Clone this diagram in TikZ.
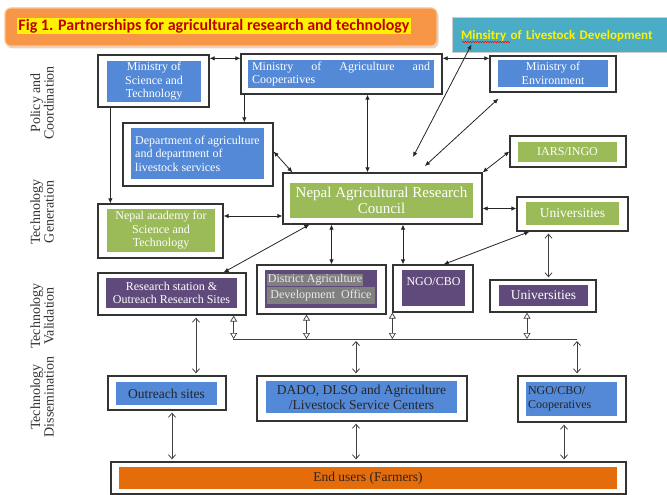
\documentclass[tikz,border=0pt]{standalone}
\usepackage{fontspec}
\setmainfont{Liberation Serif}
\newfontfamily\calibrifont{Carlito}
\usepackage{xcolor}
\usepackage{tikz}
\usetikzlibrary{arrows.meta, shadows, decorations.pathmorphing}

\definecolor{titleorange}{RGB}{247,150,70}
\definecolor{titlered}{RGB}{192,0,0}
\definecolor{lsteal}{RGB}{75,172,198}
\definecolor{polblue}{RGB}{83,137,214}
\definecolor{gengreen}{RGB}{155,187,89}
\definecolor{valpurple}{RGB}{96,74,123}
\definecolor{enduorange}{RGB}{228,108,10}
\definecolor{hlgray}{RGB}{128,128,128}

\begin{document}
\begin{tikzpicture}[
    x=1pt, y=-1pt,
    >={Latex[length=5pt, width=4.5pt]},
    link_arrow/.style={draw=black!85, line width=0.8pt, <->},
    single_arrow/.style={draw=black!85, line width=0.8pt, ->},
    barb_arrow/.style={draw=black!75, line width=0.8pt, shorten <=2pt, shorten >=2pt, {Straight Barb[length=4pt, width=7pt]}-{Straight Barb[length=4pt, width=7pt]}},
    hollow_arrow/.style={draw=black!75, line width=0.7pt, {Triangle[open, length=6pt, width=7pt]}-{Triangle[open, length=6pt, width=7pt]}},
    bus_line/.style={draw=black!75, line width=0.8pt},
    % Box frames and fills
    frame_node/.style={rectangle, draw=black!80, line width=1.3pt, fill=white, inner sep=0pt},
    fill_node/.style={rectangle, inner sep=1pt, align=center, font=\fontsize{12}{13.5}\selectfont},
    pol_node/.style={fill_node, fill=polblue, text=white},
    gen_node/.style={fill_node, fill=gengreen, text=white},
    val_node/.style={fill_node, fill=valpurple, text=white},
    dis_node/.style={fill_node, fill=polblue, text=black!85, font=\fontsize{13.5}{15}\selectfont},
    tier_label/.style={rotate=90, align=center, text=black!80, font=\fontsize{14}{13.5}\selectfont},
    % Title and livestock ministry
    title_node/.style={rectangle, rounded corners=6pt, fill=titleorange, draw=titleorange!55!white, line width=1.2pt, minimum width=432pt, minimum height=38pt, drop shadow={shadow xshift=1.5pt, shadow yshift=-2.5pt, opacity=0.3}},
    title_text/.style={fill=yellow, inner sep=1pt, text=titlered, font=\calibrifont\bfseries\fontsize{16}{18}\selectfont},
    ls_node/.style={rectangle, fill=lsteal, draw=white!80!black, line width=1pt, minimum width=215pt, minimum height=35pt, text width=197pt, align=left, inner sep=1pt, text=yellow, font=\calibrifont\bfseries\fontsize{13}{15}\selectfont}
]
    \useasboundingbox (0,0) rectangle (667,495);
    \fill [white] (0,0) rectangle (667,495);

    % ====================== TITLE ======================
    \node [title_node] (title) at (221,27) {};
    \node [title_text] (title_txt) at (214,26) {Fig 1. Partnerships for agricultural research and technology};

    % ====================== TIER LABELS ======================
    \node [tier_label] (lab_pol) at (42,103) {Policy and\\Coordination};
    \node [tier_label] (lab_gen) at (42,212) {Technology\\Generation};
    \node [tier_label] (lab_val) at (42,316) {Technology\\Validation};
    \node [tier_label] (lab_dis) at (42,397) {Technology\\Dissemination};

    % ====================== POLICY AND COORDINATION ======================
    \node [frame_node, minimum width=111pt, minimum height=52pt] (mst) at (153.5,81) {};
    \node [pol_node, minimum width=94pt, minimum height=41pt] (mst_in) at (154,81.5) {Ministry of\\Science and\\Technology};

    \node [frame_node, minimum width=201pt, minimum height=40pt] (mac) at (341.5,74) {};
    \node [pol_node, minimum width=186pt, minimum height=28pt, align=left] (mac_in) at (341,74) {\makebox[178pt][s]{Ministry of Agriculture and}\\Cooperatives};

    \node [frame_node, minimum width=126pt, minimum height=36pt] (moe) at (553,74) {};
    \node [pol_node, minimum width=110pt, minimum height=27pt] (moe_in) at (553,73.5) {Ministry of\\Environment};

    \node [ls_node] (ls) at (559.5,35.5) {Minsitry of Livestock Development};
    \draw [red, line width=0.5pt, decorate, decoration={snake, amplitude=0.7pt, segment length=2.5pt}] (462,42) -- (510,42);

    \node [frame_node, minimum width=150pt, minimum height=63pt] (dept) at (198,154.5) {};
    \node [pol_node, minimum width=133pt, minimum height=51pt, align=left] (dept_in) at (197.5,153.5) {Department of agriculture\\and department of\\livestock services};

    % ====================== TECHNOLOGY GENERATION ======================
    \node [frame_node, minimum width=116pt, minimum height=31pt] (iars) at (568,151.5) {};
    \node [gen_node, minimum width=99pt, minimum height=20pt] (iars_in) at (567.5,152) {IARS/INGO};

    \node [frame_node, minimum width=199pt, minimum height=51pt] (narc) at (382.5,198.5) {};
    \node [gen_node, minimum width=183pt, minimum height=35pt, font=\fontsize{15}{16.5}\selectfont] (narc_in) at (381.5,200.5) {Nepal Agricultural Research\\Council};

    \node [frame_node, minimum width=111pt, minimum height=34pt] (univg) at (572.5,214) {};
    \node [gen_node, minimum width=93pt, minimum height=23pt, font=\fontsize{13.5}{15}\selectfont] (univg_in) at (572.5,213.5) {Universities};

    \node [frame_node, minimum width=125pt, minimum height=54pt] (acad) at (160.5,231) {};
    \node [gen_node, minimum width=108pt, minimum height=43pt] (acad_in) at (161,230.5) {Nepal academy for\\Science and\\Technology};

    % ====================== TECHNOLOGY VALIDATION ======================
    \node [frame_node, minimum width=148pt, minimum height=42pt] (res) at (172,294) {};
    \node [val_node, minimum width=131pt, minimum height=30pt] (res_in) at (171.5,293) {Research station \&\\Outreach Research Sites};

    \node [frame_node, minimum width=129pt, minimum height=49pt] (dist) at (321.5,289.5) {};
    \node [val_node, minimum width=112pt, minimum height=38pt, align=left, text=white!92!black] (dist_in) at (321,289) {\setlength{\fboxsep}{0.4pt}\colorbox{hlgray}{District Agriculture}\\\colorbox{hlgray}{Development\ \ Office}};

    \node [frame_node, minimum width=80pt, minimum height=47pt] (ngo) at (433,288.5) {};
    \node [val_node, minimum width=63pt, minimum height=36pt] (ngo_in) at (433.5,288) {NGO/CBO\\\mbox{}};

    \node [frame_node, minimum width=106pt, minimum height=32pt] (univv) at (543,296) {};
    \node [val_node, minimum width=89pt, minimum height=21pt, font=\fontsize{13.5}{15}\selectfont] (univv_in) at (543.5,295.5) {Universities};

    % ====================== TECHNOLOGY DISSEMINATION ======================
    \node [frame_node, minimum width=118pt, minimum height=34pt] (outr) at (167,393) {};
    \node [dis_node, minimum width=101pt, minimum height=23pt] (outr_in) at (166.5,393.5) {Outreach sites};

    \node [frame_node, minimum width=210pt, minimum height=45pt] (dado) at (362,398.5) {};
    \node [dis_node, minimum width=191pt, minimum height=32pt] (dado_in) at (361.5,397) {DADO, DLSO and Agriculture\\/Livestock Service Centers};

    \node [frame_node, minimum width=108pt, minimum height=46pt] (coop) at (572,399) {};
    \node [dis_node, minimum width=91pt, minimum height=34pt, text width=87pt, align=left, font=\fontsize{12}{13.5}\selectfont] (coop_in) at (571.5,399) {NGO/CBO/\\Cooperatives};

    \node [frame_node, minimum width=515pt, minimum height=32pt] (endu) at (368.5,478) {};
    \node [dis_node, fill=enduorange, minimum width=498pt, minimum height=22pt] (endu_in) at (368,478) {End users (Farmers)};

    % ====================== CONNECTORS (UPPER) ======================
    \coordinate (ls_end) at (413,157);
    \coordinate (moe_end) at (425,166);

    \draw [link_arrow] ([yshift=-4pt]mst.north east) -- ([yshift=-4pt]mst.north east -| mac.west);
    \draw [link_arrow] ([yshift=-5pt]mac.north east) -- ([yshift=-5pt]mac.north east -| moe.west);
    \draw [single_arrow] ([xshift=4pt]mac.south west) -- ([xshift=4pt]mac.south west |- dept.north);
    \draw [single_arrow] ([xshift=13pt]mst.south west) -- ([xshift=13pt]mst.south west |- acad.north);
    \draw [link_arrow] ([yshift=3pt]dept.east) -- ([xshift=10pt]narc.north west);
    \draw [link_arrow] ([xshift=-15pt]narc.north |- mac.south) -- ([xshift=-15pt]narc.north);
    \draw [link_arrow] ([xshift=20pt, yshift=9pt]ls.south west) -- (ls_end);
    \draw [link_arrow] ([xshift=9pt, yshift=-6pt]moe.south west) -- (moe_end);
    \draw [link_arrow] (narc.north east) -- (iars.west);
    \draw [link_arrow] ([yshift=-10pt]narc.east) -- ([yshift=-10pt]narc.east -| univg.west);
    \draw [link_arrow] ([yshift=15pt]acad.east) -- ([yshift=15pt]acad.east -| narc.west);
    \draw [link_arrow] ([xshift=27pt]narc.south west) -- ([xshift=-23pt]res.north east);
    \draw [link_arrow] ([xshift=10pt]dist.north |- narc.south) -- ([xshift=10pt]dist.north);
    \draw [link_arrow] ([xshift=-30pt]ngo.north |- narc.south) -- ([xshift=-30pt]ngo.north);
    \draw [link_arrow] ([xshift=13pt]univg.south west) -- ([xshift=-30pt]ngo.north east);
    \draw [barb_arrow] ([xshift=-24pt]univg.south) -- ([xshift=-24pt]univg.south |- univv.north);

    % ====================== CONNECTORS (LOWER) ======================
    \coordinate (bus_l) at (233,339);
    \coordinate (bus_r) at (577,339);

    \draw [bus_line] (bus_l) -- (bus_r);
    \draw [hollow_arrow] ([xshift=-13pt]res.south east) -- ([xshift=-13pt]res.south east |- bus_l);
    \draw [hollow_arrow] ([xshift=-15pt]dist.south) -- ([xshift=-15pt]dist.south |- bus_l);
    \draw [hollow_arrow] (ngo.south west) -- (ngo.south west |- bus_l);
    \draw [hollow_arrow] ([xshift=-16pt]univv.south) -- ([xshift=-16pt]univv.south |- bus_l);
    \draw [barb_arrow] ([xshift=-6pt]dado.north |- bus_l) -- ([xshift=-6pt]dado.north);
    \draw [barb_arrow] (bus_r) -- (bus_r |- coop.north);
    \draw [barb_arrow] ([xshift=24pt]res.south) -- ([xshift=24pt]res.south |- outr.north);
    \draw [barb_arrow] ([xshift=5pt]outr.south) -- ([xshift=5pt]outr.south |- endu.north);
    \draw [barb_arrow] ([xshift=-6pt]dado.south) -- ([xshift=-6pt]dado.south |- endu.north);
    \draw [barb_arrow] ([xshift=-8pt]coop.south) -- ([xshift=-8pt]coop.south |- endu.north);
\end{tikzpicture}
\end{document}
